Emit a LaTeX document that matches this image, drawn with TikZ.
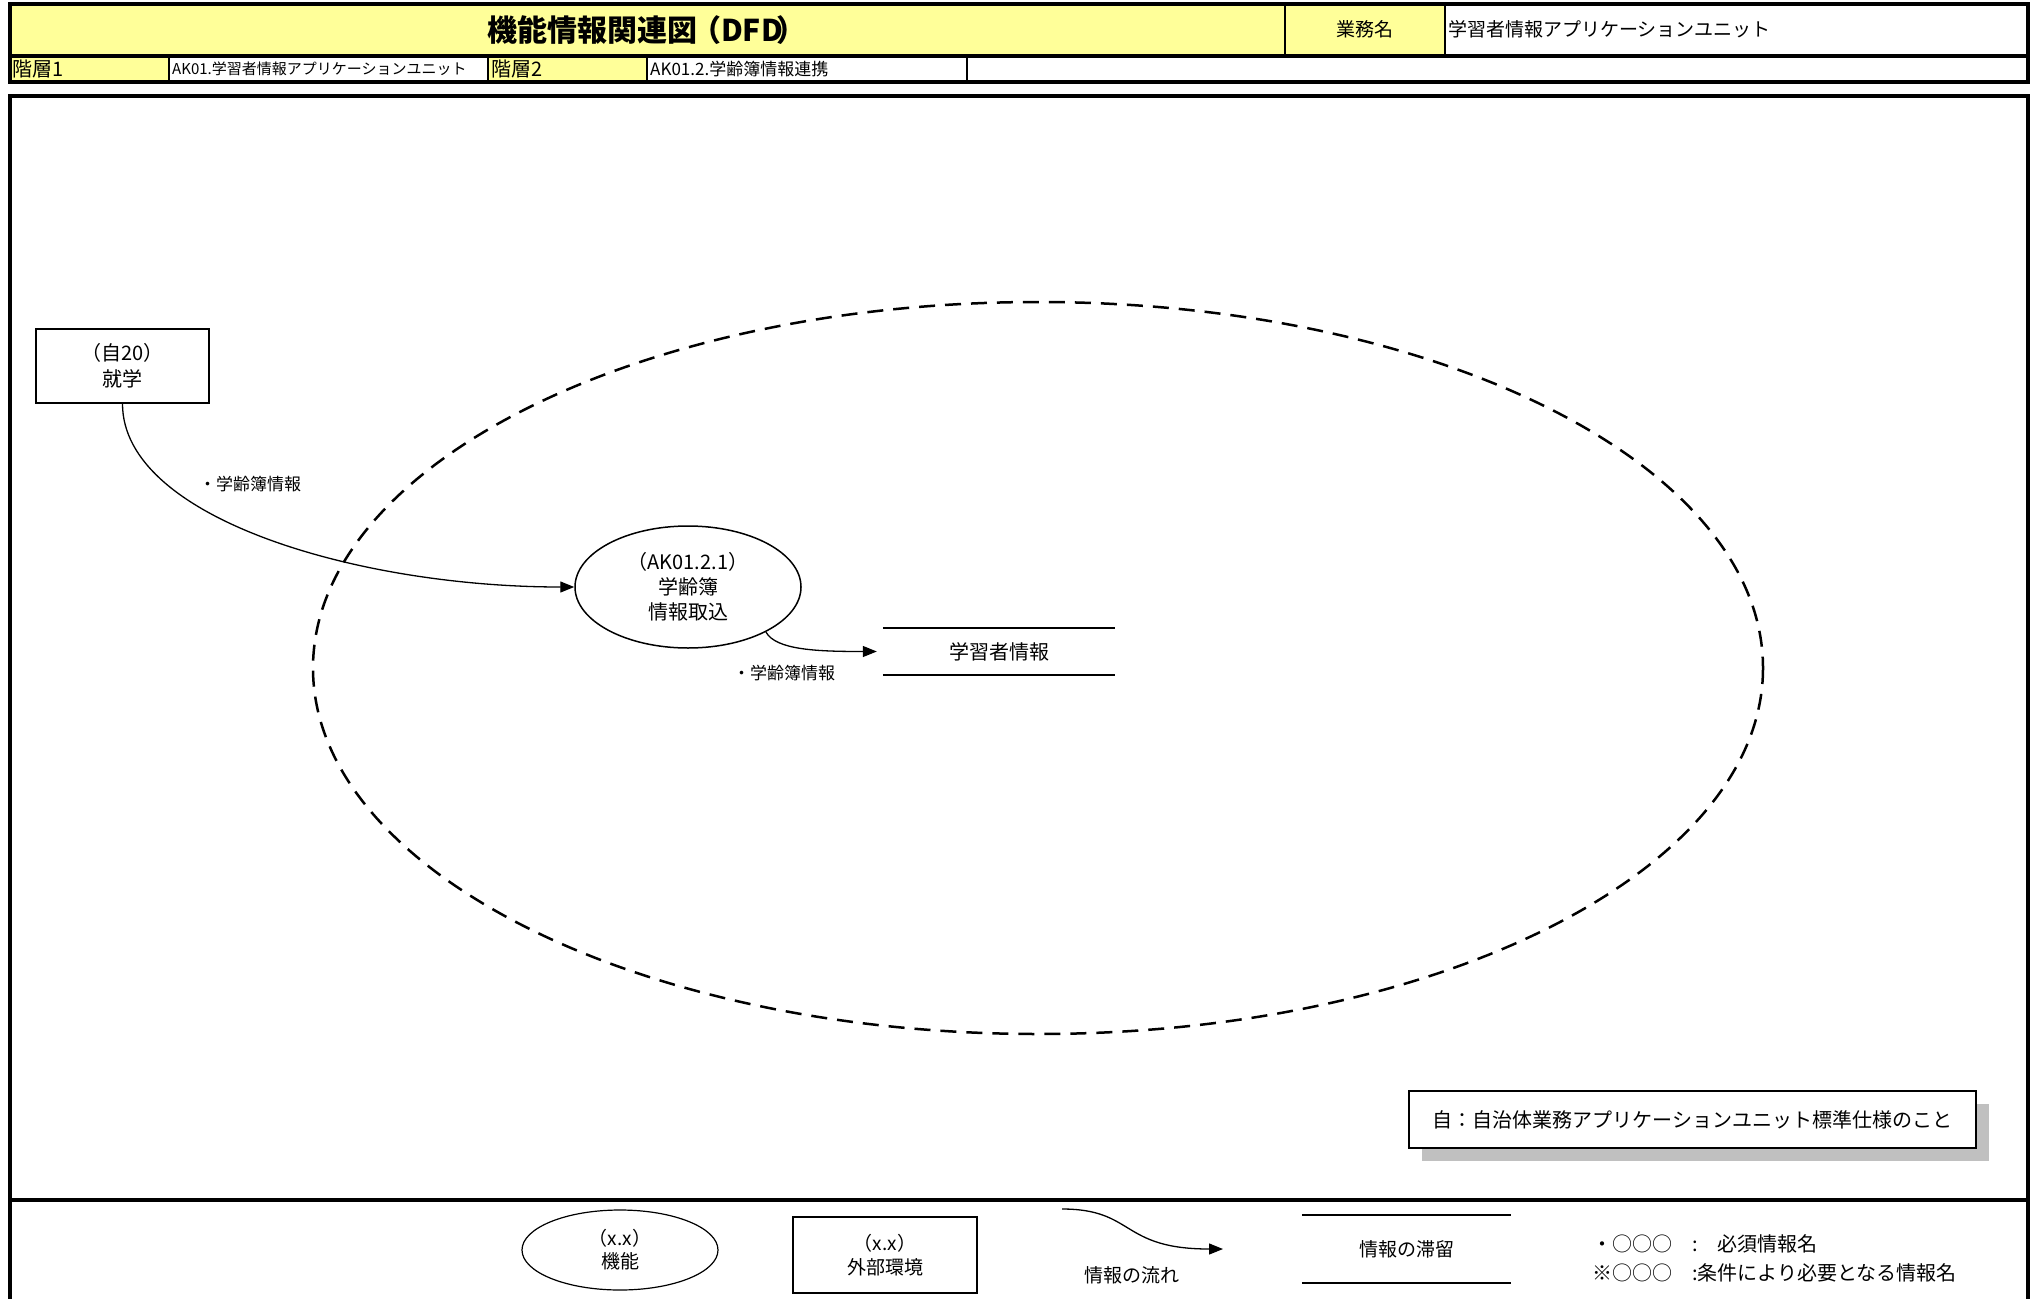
\documentclass[tikz,border=0pt]{standalone}
\usepackage{fontspec}
\setmainfont{Noto Sans CJK JP}
\usetikzlibrary{arrows.meta,shapes.geometric}
\definecolor{hdryellow}{RGB}{255,255,153}
\definecolor{shadowgray}{RGB}{192,192,192}
\begin{document}
\begin{tikzpicture}[x=1pt,y=-1pt,
  thickline/.style={line width=3.5pt},
  cellline/.style={line width=1.8pt},
  gridline/.style={line width=1.2pt},
  txt/.style={inner sep=0pt, font=\fontsize{20}{26}\selectfont, align=center},
  hdrtxt/.style={inner sep=0pt, font=\fontsize{19}{22}\selectfont, anchor=west},
  subtxt/.style={inner sep=0pt, font=\fontsize{15}{18}\selectfont, anchor=west},
  lbl/.style={inner sep=0pt, font=\fontsize{17}{20}\selectfont},
  extbox/.style={draw, line width=1.5pt, rectangle, inner sep=0pt, align=center, font=\fontsize{20}{26}\selectfont},
  funcell/.style={draw, line width=1.5pt, ellipse, inner sep=0pt, align=center, font=\fontsize{20}{25}\selectfont},
  storenode/.style={inner sep=0pt, font=\fontsize{20}{25}\selectfont},
  storeline/.style={line width=1.8pt},
  flow/.style={line width=1.3pt, -{Triangle[length=14pt,width=11pt]}},
  ring/.style={line width=2.5pt, dash pattern=on 16pt off 10pt},
  notebox/.style={draw, fill=white, line width=1.5pt, inner sep=0pt, font=\fontsize{20}{25}\selectfont}
]
\useasboundingbox (0,0) rectangle (2036,1298);
\fill[white] (0,0) rectangle (2036,1298);

% ---- header ----
\fill[hdryellow] (10,4) rectangle (1445,56);
\fill[hdryellow] (10,56) rectangle (169,82);
\fill[hdryellow] (488,56) rectangle (647,82);
\draw[cellline] (1285,4) -- (1285,56);
\draw[cellline] (1445,4) -- (1445,56);
\draw[gridline] (169,56) -- (169,82);
\draw[gridline] (488,56) -- (488,82);
\draw[gridline] (647,56) -- (647,82);
\draw[gridline] (967,56) -- (967,82);
\draw[thickline] (10,4) rectangle (2028,82);
\draw[thickline] (10,56) -- (2028,56);

\node[inner sep=0pt, font=\fontsize{30}{34}\selectfont\bfseries] (title) at (647,30) {機能情報関連図\kern-6pt（DFD\kern-6pt）};
\node[inner sep=0pt, font=\fontsize{19}{22}\selectfont] (gm) at (1365,29) {業務名};
\node[hdrtxt] (gmv) at (1448,29) {学習者情報アプリケーションユニット};
\node[hdrtxt, font=\fontsize{20}{22}\selectfont] (k1) at (12,69) {階層1};
\node[subtxt] (k1v) at (172,69) {AK01.学習者情報アプリケーションユニット};
\node[hdrtxt, font=\fontsize{20}{22}\selectfont] (k2) at (491,69) {階層2};
\node[subtxt, font=\fontsize{17}{20}\selectfont] (k2v) at (650,69) {AK01.2.学齢簿情報連携};

% ---- main frame ----
\draw[thickline] (10,96) rectangle (2028,1200);

% dashed boundary
\draw[ring] (1038,668) ellipse [x radius=725, y radius=366];

% nodes
\node[extbox, minimum width=173pt, minimum height=74pt] (jg) at (122.5,366) {（自20）\\就学};
\node[funcell, minimum width=226pt, minimum height=122pt] (fn) at (688,587) {（AK01.2.1）\\学齢簿\\情報取込};
\node[storenode, minimum width=232pt, minimum height=47pt] (ds) at (999,651.5) {学習者情報};
\draw[storeline] (ds.north west) -- (ds.north east);
\draw[storeline] (ds.south west) -- (ds.south east);

% flows
\draw[flow] (jg.south) .. controls +(0,115) and +(-215,0) .. (fn.west);
\node[lbl] (l1) at (250,484) {・学齢簿情報};
\draw[flow] (fn.-30) .. controls +(10,18) and +(-60,0) .. ([xshift=-6pt]ds.west);
\node[lbl] (l2) at (784,673) {・学齢簿情報};

% note
\fill[shadowgray] (1422,1104) rectangle (1989,1161);
\node[notebox, minimum width=567pt, minimum height=57pt] (nt) at (1692.5,1119.5) {自：自治体業務アプリケーションユニット標準仕様のこと};

% ---- legend ----
\draw[thickline] (10,1310) -- (10,1200) -- (2028,1200) -- (2028,1310);
\node[funcell, line width=1.2pt, minimum width=196pt, minimum height=80pt, font=\fontsize{19}{23}\selectfont] (lf) at (620,1250) {（x.x）\\機能};
\node[extbox, line width=1.8pt, minimum width=184pt, minimum height=76pt, font=\fontsize{19}{24}\selectfont] (le) at (885,1255) {（x.x）\\外部環境};
\coordinate (fa) at (1062,1209);
\coordinate (fb) at (1223,1249);
\draw[flow] (fa) .. controls (1135,1209) and (1120,1249) .. (fb);
\node[lbl, font=\fontsize{19}{22}\selectfont] (ll) at (1132,1275) {情報の流れ};
\node[storenode, font=\fontsize{19}{22}\selectfont, minimum width=209pt, minimum height=68pt] (ls) at (1406.5,1249) {情報の滞留};
\draw[storeline] (ls.north west) -- (ls.north east);
\draw[storeline] (ls.south west) -- (ls.south east);
\node[hdrtxt, font=\fontsize{20}{22}\selectfont] (n1) at (1592,1244) {・○○○　:　必須情報名};
\node[hdrtxt, font=\fontsize{20}{22}\selectfont] (n2) at (1592,1273) {※○○○　:条件により必要となる情報名};
\end{tikzpicture}
\end{document}
